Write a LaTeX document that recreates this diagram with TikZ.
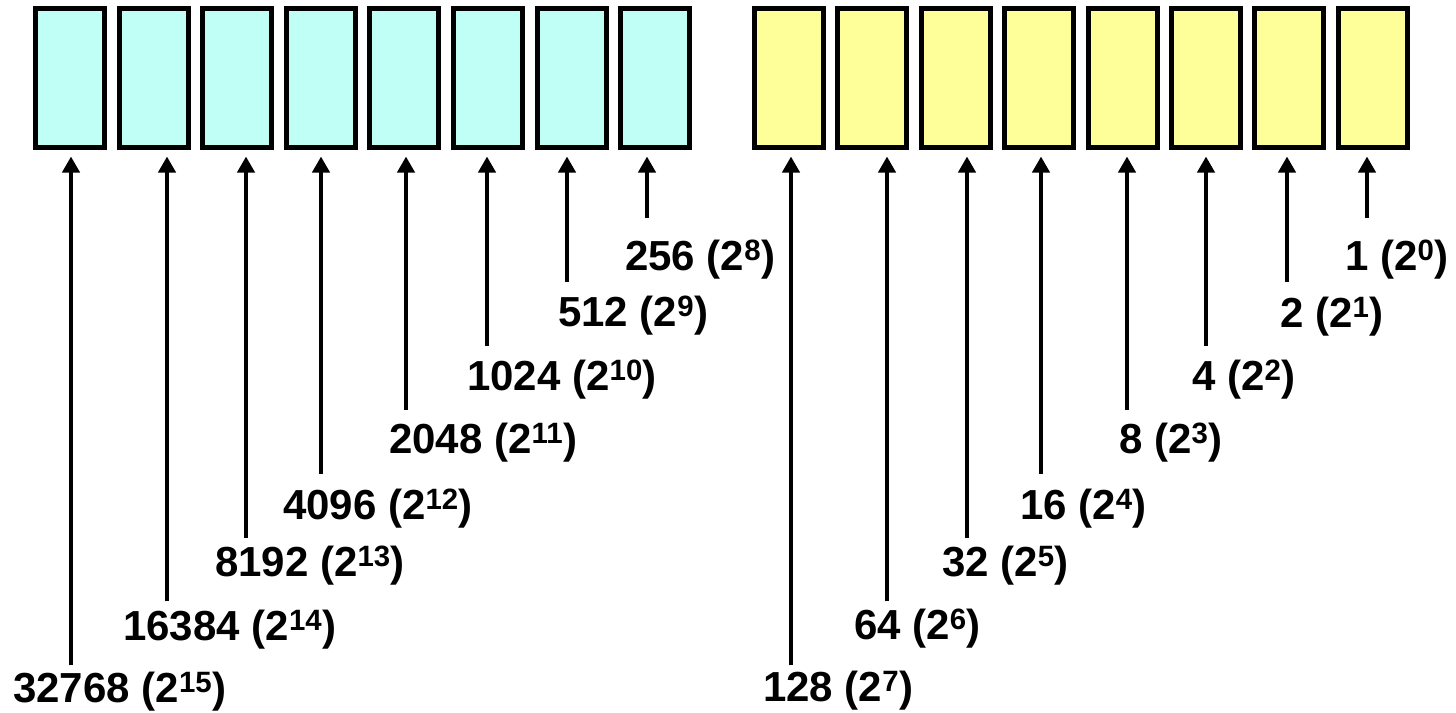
\documentclass[tikz,border=0pt]{standalone}
\usepackage{fontspec}
\setmainfont{Liberation Sans}
\usetikzlibrary{arrows.meta}
\definecolor{highbyte}{RGB}{192,255,246}
\definecolor{lowbyte}{RGB}{255,255,153}
\tikzset{
  bitbox/.style={draw,line width=5pt,inner sep=0pt,minimum width=69pt,minimum height=139pt},
  weight/.style={anchor=base west,inner sep=0pt,font=\fontsize{42}{50}\selectfont\bfseries},
  pointer/.style={->,line width=4.5pt,shorten >=6.5pt},
}
\begin{document}
\begin{tikzpicture}[x=1pt,y=-1pt,>={Triangle[length=16pt,width=17pt]}]
    \useasboundingbox (0,0) rectangle (1456,712);
    % high byte
    \foreach \i in {0,...,7}
        {\node[bitbox,fill=highbyte] (h\i) at (70+83.6*\i,78) {};
        }
    \foreach \i/\ax/\lx/\ly/\v/\e in {0/71/13/702/32768/15,1/167/123/640/16384/14,
        2/246/215/576/8192/13,3/321/283/519/4096/12,4/406/389/453/2048/11,
        5/487/467/390/1024/10,6/567/558/326/512/9,7/647/625/270/256/8}
        {\node[weight] (hl\i) at (\lx,\ly) {\v\ (2\textsuperscript{\e})};
         \coordinate (ht\i) at (\ax,{218+63.9*(7-\i)});
         \draw[pointer] (ht\i) -- (ht\i |- h\i.south);
        }
    % low byte
    \foreach \i in {0,...,7}
        {\node[bitbox,fill=lowbyte] (l\i) at (789+83.4*\i,78) {};
        }
    \foreach \i/\ax/\lx/\ly/\v/\e in {0/791/763/701/128/7,1/887/854/639/64/6,
        2/967/942/576/32/5,3/1041/1020/519/16/4,4/1127/1119/453/8/3,
        5/1206/1192/390/4/2,6/1287/1280/327/2/1,7/1367/1345/270/1/0}
        {\node[weight] (ll\i) at (\lx,\ly) {\v\ (2\textsuperscript{\e})};
         \coordinate (lt\i) at (\ax,{218+63.9*(7-\i)});
         \draw[pointer] (lt\i) -- (lt\i |- l\i.south);
        }
\end{tikzpicture}
\end{document}
